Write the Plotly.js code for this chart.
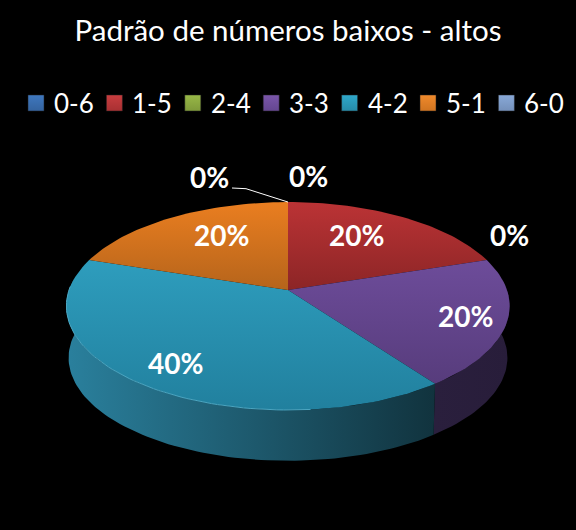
<!DOCTYPE html>
<html><head><meta charset="utf-8">
<script src="https://cdn.plot.ly/plotly-3.0.1.min.js"></script>
<style>html,body{margin:0;padding:0;background:#000}#c{width:576px;height:530px}</style></head>
<body><div id="c"></div>
<script>
const categories = ['0-6','1-5','2-4','3-3','4-2','5-1','6-0'];
const percentages = [0,20,0,20,40,20,0];
const chartTitle = 'Padrão de números baixos - altos';

const swatchColors = ['#3f78bf','#c83d3f','#98b847','#7a56aa','#2fa8ca','#f08a2c','#89a9d8'];
const swatchShade = ['#34639f','#a83032','#7f9a3a','#644690','#268ba8','#d07420','#7490ba'];
const topTone = ['#4a7ebd','#bb3335','#9bbb59','#6d4c9a','#2e9dbd','#ea7e20','#8eaedb'];
const bottomTone = ['#3a6298','#8c2526','#71893f','#573c7c','#21809e','#b5641b','#6f88ab'];
const sideLeftTone = ['#223a5a','#5a1718','#445226','#2a1f3d','#2a809d','#6b3b10','#42516a'];
const sideRightTone = ['#223a5a','#5a1718','#445226','#281d3a','#11333e','#6b3b10','#42516a'];
const labelAnchors = [[209,177],[356,235],[308,176],[465,316],[175,363],[221,235],null];
const zeroExtra = [509,235];

const cx = 288, cy = 290, A = 219, B = 101.5, K = 0.154, depth = 52, shrink = 0.99;
const legendX = 36, legendPitch = 78.4, legendY = 103, legendTextGap = 16;
const rad = d => d * Math.PI / 180;
function project(deg, r, lower) {
  const X = Math.sin(rad(deg)) * r, Y = Math.cos(rad(deg)) * r;
  const den = 1 + K * Y, s = lower ? shrink : 1;
  return [cx + s * A * X / den, cy + (lower ? depth : 0) - s * B * Y / den];
}
function arc(a0, a1, lower) {
  const pts = [], n = Math.max(2, Math.ceil(Math.abs(a1 - a0) / 1.5));
  for (let i = 0; i <= n; i++) pts.push(project(a0 + (a1 - a0) * i / n, 1, lower));
  return pts;
}
function grad(type, c0, c1) {
  return {type: type, colorscale: [[0, c0], [1, c1]]};
}

let acc = 0;
const slices = percentages.map((v, i) => {
  const s = {i, a0: acc * 3.6, a1: (acc + v) * 3.6}; acc += v; return s;
});
const sideTraces = [], topTraces = [];
slices.filter(s => s.a1 > s.a0).forEach(s => {
  const a0 = Math.max(s.a0, 84), a1 = Math.min(s.a1, 276);
  if (a1 > a0) {
    const p = arc(a0, a1, false).concat(arc(a1, a0, true));
    p.push(p[0]);
    sideTraces.push({type:'scatter', mode:'lines', name:categories[s.i], x:p.map(q=>q[0]), y:p.map(q=>q[1]),
      fill:'toself', line:{width:0}, showlegend:false, hoverinfo:'skip',
      fillgradient: grad('horizontal', sideLeftTone[s.i], sideRightTone[s.i])});
  }
  const t = [[cx, cy]].concat(arc(s.a0, s.a1, false)); t.push([cx, cy]);
  topTraces.push({type:'scatter', mode:'lines', name:categories[s.i], x:t.map(q=>q[0]), y:t.map(q=>q[1]),
    fill:'toself', line:{width:0}, showlegend:false, hoverinfo:'skip',
    fillgradient: grad('vertical', bottomTone[s.i], topTone[s.i])});
});
const rimPts = arc(175, 272, false);
const rim = {type:'scatter', mode:'lines', x:rimPts.map(q=>q[0]), y:rimPts.map(q=>q[1]),
  line:{color:'#4ba6c2', width:1}, showlegend:false, hoverinfo:'skip'};

const legendTraces = categories.map((name, i) => ({
  type:'scatter', mode:'markers', name, x:[legendX + i * legendPitch], y:[legendY],
  showlegend:false, hoverinfo:'skip',
  marker:{symbol:'square', size:16, color:swatchColors[i],
    gradient:{type:'vertical', color:swatchShade[i]}, line:{color:'#222222', width:0.5}}
}));
const legendLabels = categories.map((name, i) => ({
  x:legendX + i * legendPitch + legendTextGap, y:legendY, xref:'x', yref:'y', text:name, showarrow:false,
  xanchor:'left', yanchor:'middle', font:{family:'Lato, sans-serif', size:26, color:'#ffffff'}
}));

const leaderStart = project(0, 1, false);
const leader = {type:'scatter', mode:'lines', x:[232, 246, leaderStart[0]], y:[188, 188.7, leaderStart[1]],
  line:{color:'#ffffff', width:1}, showlegend:false, hoverinfo:'skip'};

const annotations = percentages.map((v, i) => {
  const a = labelAnchors[i] || zeroExtra;
  return {x:a[0], y:a[1], xref:'x', yref:'y', text:'<b>'+v+'%</b>', showarrow:false,
    xanchor:'center', yanchor:'middle', font:{family:'Lato, sans-serif', size:28, color:'#ffffff'}};
}).concat(legendLabels);

Plotly.newPlot('c', sideTraces.concat(topTraces, [rim, leader], legendTraces), {
  width:576, height:530, autosize:false, showlegend:false,
  paper_bgcolor:'#000000', plot_bgcolor:'#000000',
  margin:{l:0, r:0, t:0, b:0},
  title:{text:chartTitle, x:0.5, xanchor:'center', y:0.942, yanchor:'middle',
    font:{family:'Lato, sans-serif', size:29.5, color:'#ffffff'}},
  xaxis:{range:[0,576], visible:false, fixedrange:true},
  yaxis:{range:[530,0], visible:false, fixedrange:true},
  annotations, hovermode:false
}, {displayModeBar:false, staticPlot:true});
</script></body></html>
